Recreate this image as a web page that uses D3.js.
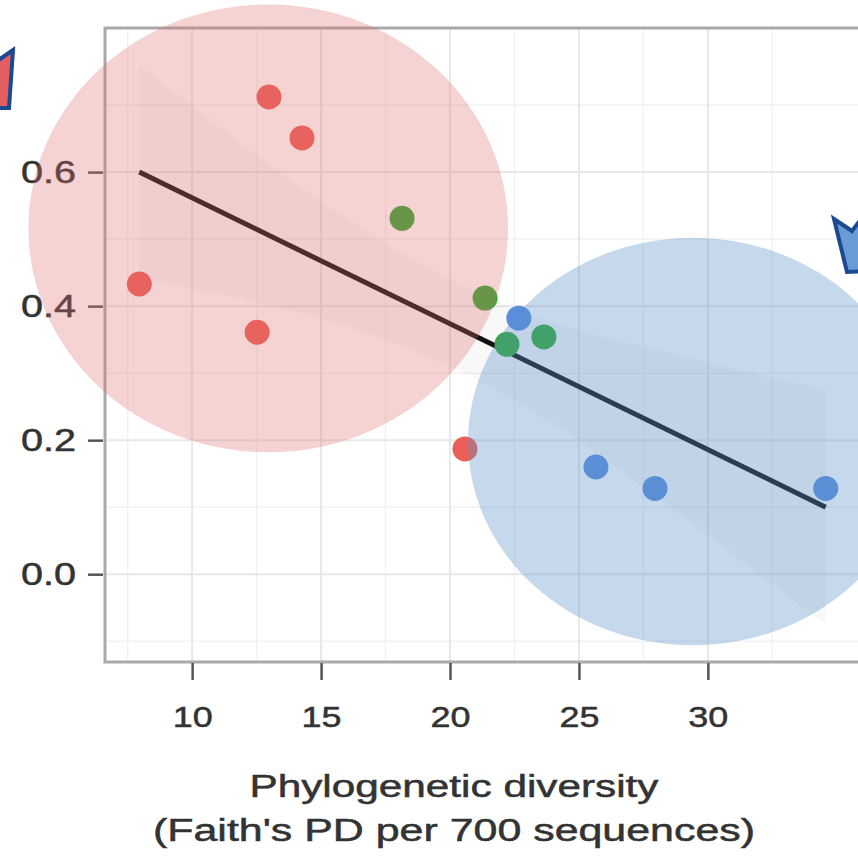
<!DOCTYPE html>
<html>
<head>
<meta charset="utf-8">
<script src="https://cdn.jsdelivr.net/npm/d3@7"></script>
<style>
html,body{margin:0;padding:0;background:#fff;}
svg{display:block;}
text{font-family:"Liberation Sans",Arial,Helvetica,sans-serif;fill:#333;stroke:#333;stroke-width:0.5px;}
</style>
</head>
<body>
<svg id="chart" width="858" height="856"></svg>
<script>
// ---- data ----
const groups = ["low", "mid", "high"];
const groupColors = ["#ec5f58", "#35a838", "#5a8ddc"];
const pdX = [12.98, 14.26, 7.95, 12.52, 20.58, 18.14, 21.36, 22.21, 23.64, 22.67, 25.66, 27.95, 34.57];
const yVal = [0.712, 0.651, 0.433, 0.361, 0.187, 0.531, 0.412, 0.343, 0.354, 0.382, 0.160, 0.128, 0.128];
const pointGroup = ["low","low","low","low","low","mid","mid","mid","mid","high","high","high","high"];
const fitX = [7.95, 34.57];
const fitY = [0.600, 0.100];
const bandX = [7.95, 12, 16, 20, 24, 28, 34.57];
const bandUpper = [0.76, 0.64, 0.53, 0.44, 0.375, 0.335, 0.275];
const bandLower = [0.44, 0.41, 0.37, 0.31, 0.225, 0.115, -0.075];
const xTicks = [10, 15, 20, 25, 30];
const xMinor = [7.5, 12.5, 17.5, 22.5, 27.5, 32.5];
const yTicks = [0.0, 0.2, 0.4, 0.6];
const yMinor = [-0.1, 0.1, 0.3, 0.5, 0.7];
const xTitle = ["Phylogenetic diversity", "(Faith's PD per 700 sequences)"];
// highlight ellipses (data units): cx, cy, rx, ry
const highlightCx = [12.95, 29.42];
const highlightCy = [0.516, 0.198];
const highlightRx = [9.30, 8.72];
const highlightRy = [0.334, 0.304];
const highlightFill = ["rgb(222,110,110)", "rgb(92,146,201)"];
const highlightOpacity = [0.3, 0.35];

// ---- layout ----
const svg = d3.select("#chart");
const panel = {left: 105, right: 860, top: 28, bottom: 662};
const x = d3.scaleLinear().domain([6.62, 35.9]).range([panel.left, panel.right]);
const y = d3.scaleLinear().domain([-0.131, 0.815]).range([panel.bottom, panel.top]);

svg.append("defs").append("clipPath").attr("id","pclip")
  .append("rect").attr("x",panel.left).attr("y",panel.top)
  .attr("width",panel.right-panel.left).attr("height",panel.bottom-panel.top);

const g = svg.append("g").attr("clip-path","url(#pclip)");

// grid
g.selectAll(".xminor").data(xMinor).enter().append("line")
  .attr("x1",d=>x(d)).attr("x2",d=>x(d)).attr("y1",panel.top).attr("y2",panel.bottom)
  .attr("stroke","#f2f2f2").attr("stroke-width",1.5);
g.selectAll(".yminor").data(yMinor).enter().append("line")
  .attr("y1",d=>y(d)).attr("y2",d=>y(d)).attr("x1",panel.left).attr("x2",panel.right)
  .attr("stroke","#f2f2f2").attr("stroke-width",1.5);
g.selectAll(".xmajor").data(xTicks).enter().append("line")
  .attr("x1",d=>x(d)).attr("x2",d=>x(d)).attr("y1",panel.top).attr("y2",panel.bottom)
  .attr("stroke","#e8e8e8").attr("stroke-width",2);
g.selectAll(".ymajor").data(yTicks).enter().append("line")
  .attr("y1",d=>y(d)).attr("y2",d=>y(d)).attr("x1",panel.left).attr("x2",panel.right)
  .attr("stroke","#e8e8e8").attr("stroke-width",2);

// confidence band
const bandData = bandX.map((d,i)=>({x:d, lo:bandLower[i], hi:bandUpper[i]}));
g.append("path").datum(bandData)
  .attr("d", d3.area().x(d=>x(d.x)).y0(d=>y(d.lo)).y1(d=>y(d.hi)).curve(d3.curveMonotoneX))
  .attr("fill","#9a9a9a").attr("fill-opacity",0.07);

// fit line
g.append("line")
  .attr("x1",x(fitX[0])).attr("y1",y(fitY[0])).attr("x2",x(fitX[1])).attr("y2",y(fitY[1]))
  .attr("stroke","#111").attr("stroke-width",5).attr("stroke-linecap","butt");

// points
const pts = pdX.map((d,i)=>({x:d, y:yVal[i], g:pointGroup[i]}));
const color = d3.scaleOrdinal().domain(groups).range(groupColors);
g.selectAll(".pt").data(pts).enter().append("circle")
  .attr("cx",d=>x(d.x)).attr("cy",d=>y(d.y)).attr("r",12.5)
  .attr("fill",d=>color(d.g));

// panel border
svg.append("rect").attr("x",panel.left).attr("y",panel.top)
  .attr("width",panel.right-panel.left).attr("height",panel.bottom-panel.top)
  .attr("fill","none").attr("stroke","#a9a9a9").attr("stroke-width",3);

// axes
const yAxis = svg.append("g").attr("transform",`translate(${panel.left-2},0)`)
  .call(d3.axisLeft(y).tickValues(yTicks).tickFormat(d3.format(".1f")).tickSize(15).tickPadding(12));
yAxis.select(".domain").remove();
yAxis.selectAll(".tick line").attr("stroke","#555").attr("stroke-width",2.5);
yAxis.selectAll(".tick text").attr("font-size",31)
  .attr("textLength",55).attr("lengthAdjust","spacingAndGlyphs");

const xAxis = svg.append("g").attr("transform",`translate(0,${panel.bottom+1})`)
  .call(d3.axisBottom(x).tickValues(xTicks).tickFormat(d3.format("d")).tickSize(17).tickPadding(26));
xAxis.select(".domain").remove();
xAxis.selectAll(".tick line").attr("stroke","#555").attr("stroke-width",2.5);
xAxis.selectAll(".tick text").attr("font-size",30)
  .attr("textLength",40).attr("lengthAdjust","spacingAndGlyphs");

// axis title
const titleLen = [409, 602];
const titleBase = [797, 841];
svg.selectAll(".xtitle").data(xTitle).enter().append("text")
  .attr("x",454).attr("y",(d,i)=>titleBase[i]).attr("text-anchor","middle")
  .attr("font-size",31).attr("textLength",(d,i)=>titleLen[i]).attr("lengthAdjust","spacingAndGlyphs")
  .text(d=>d);

// highlight overlays
svg.selectAll(".hl").data(highlightCx).enter().append("ellipse")
  .attr("cx",(d,i)=>x(highlightCx[i])).attr("cy",(d,i)=>y(highlightCy[i]))
  .attr("rx",(d,i)=>x(highlightCx[i]+highlightRx[i])-x(highlightCx[i]))
  .attr("ry",(d,i)=>y(highlightCy[i]-highlightRy[i])-y(highlightCy[i]))
  .attr("fill",(d,i)=>highlightFill[i]).attr("fill-opacity",(d,i)=>highlightOpacity[i]);

// arrow decorations (partially off-canvas)
svg.append("polygon")
  .attr("points","13,50 9,108 -10,108 -10,66")
  .attr("fill","#e35f5f").attr("stroke","#1b4a93").attr("stroke-width",4).attr("stroke-linejoin","miter");
svg.append("polygon")
  .attr("points","834,219 852,231 864,215 866,271 847,272")
  .attr("fill","#6a9bd6").attr("stroke","#1b4a93").attr("stroke-width",4).attr("stroke-linejoin","miter");
</script>
</body>
</html>
